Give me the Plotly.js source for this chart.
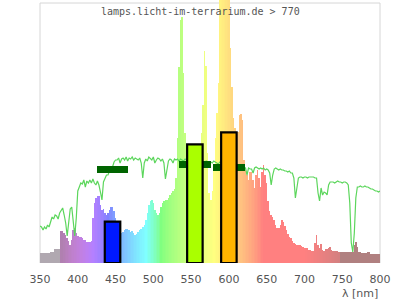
<!DOCTYPE html>
<html>
<head>
<meta charset="utf-8">
<script src="https://cdn.plot.ly/plotly-3.0.1.min.js"></script>
<style>html,body{margin:0;padding:0;background:#fff;}#chart{width:400px;height:300px;}</style>
</head>
<body>
<div id="chart"></div>
<script>
// wavelength grid (nm)
const WL = [
350,352,354,356,358,360,362,364,366,368,
370,372,374,376,378,380,382,384,386,388,
390,392,394,396,398,400,402,404,406,408,
410,412,414,416,418,420,422,424,426,428,
430,432,434,436,438,440,442,444,446,448,
450,452,454,456,458,460,462,464,466,468,
470,472,474,476,478,480,482,484,486,488,
490,492,494,496,498,500,502,504,506,508,
510,512,514,516,518,520,522,524,526,528,
530,532,534,536,538,540,542,544,546,548,
550,552,554,556,558,560,562,564,566,568,
570,572,574,576,578,580,582,584,586,588,
590,592,594,596,598,600,602,604,606,608,
610,612,614,616,618,620,622,624,626,628,
630,632,634,636,638,640,642,644,646,648,
650,652,654,656,658,660,662,664,666,668,
670,672,674,676,678,680,682,684,686,688,
690,692,694,696,698,700,702,704,706,708,
710,712,714,716,718,720,722,724,726,728,
730,732,734,736,738,740,742,744,746,748,
750,752,754,756,758,760,762,764,766,768,
770,772,774,776,778,780,782,784,786,788,
790,792,794,796,798,800];

// lamp spectrum (relative)
const LAMP = [
10,10,10,10,10,10,10,11,11,11,
14,14,14,14,32,32,30,28,25,22,
18,23,33,35,30,27,26,26,25,23,
23,21,21,21,22,45,60,65,67,67,
58,53,54,50,48,50,53,56,56,52,
45,40,36,33,30,31,33,34,34,33,
31,32,30,28,29,31,33,34,36,38,
43,50,58,62,63,60,53,50,48,50,
56,60,62,63,63,65,68,70,72,74,
85,125,196,243,246,190,130,118,105,100,
98,98,100,102,105,108,112,130,158,212,
197,110,70,63,72,95,125,150,180,275,
275,275,275,275,275,275,215,176,145,135,
131,131,148,149,143,103,93,88,83,91,
91,83,75,88,93,85,76,91,98,88,
80,62,52,48,46,43,38,35,35,38,
43,41,37,33,29,26,25,22,20,19,
18,18,18,17,16,15,15,15,13,13,
12,12,20,28,18,15,19,13,12,14,
14,15,16,13,12,12,12,12,11,11,
11,11,11,11,11,11,11,11,18,21,
16,11,11,10,10,10,10,11,11,9,
9,9,9,9,9,9];

// reference sunlight spectrum (relative)
const SUN = [
37,36,33,36,34,38,36,42,46,44,
48,47,44,50,52,55,48,40,27,44,
54,56,40,27,45,72,76,80,79,83,
76,82,80,83,80,84,80,78,82,78,
71,63,81,84,88,88,92,93,96,101,
103,103,105,100,104,105,103,106,102,105,
104,106,103,105,104,103,105,100,85,100,
104,102,106,104,103,106,100,103,105,104,
102,104,100,84,92,102,104,103,100,104,
103,104,102,104,103,102,104,103,101,103,
102,101,103,100,102,101,103,102,100,101,
102,100,101,101,100,102,101,100,99,101,
100,98,99,100,98,99,97,98,96,97,
98,96,97,95,96,94,95,88,95,94,
94,90,95,96,95,94,95,94,95,93,
94,93,90,78,88,94,95,94,93,94,
93,93,92,92,91,92,90,90,85,65,
78,85,86,86,85,86,86,85,86,86,
86,86,85,85,70,62,75,68,71,70,
68,78,81,81,81,80,81,82,81,81,
80,81,81,80,78,60,20,11,30,65,
76,76,77,76,76,77,76,76,75,74,
74,73,72,72,71,72];

// band summaries
const BAND_CENTER = [446, 555, 600];
const BAND_LAMP = [41.3, 118.7, 130.7];
const BAND_SUN = [93.7, 98.7, 95.7];
const BAND_COLOR = ['#0019ff', '#aaff00', '#ffb400'];

const TICKS = [350, 400, 450, 500, 550, 600, 650, 700, 750, 800];

function specColor(w) {
  if (w < 377) return 'rgb(176,168,176)';
  if (w > 746) return 'rgb(176,128,128)';
  const x = Math.max(380, Math.min(780, w));
  let r = 0, g = 0, b = 0;
  if (x < 440) { r = -(x - 440) / 60; b = 1; }
  else if (x < 490) { g = (x - 440) / 50; b = 1; }
  else if (x < 510) { g = 1; b = -(x - 510) / 20; }
  else if (x < 580) { r = (x - 510) / 70; g = 1; }
  else if (x < 645) { r = 1; g = -(x - 645) / 65; }
  else { r = 1; }
  let f = 1;
  if (x < 420) f = 0.3 + 0.7 * (x - 380) / 40;
  else if (x > 700) f = 0.3 + 0.7 * (780 - x) / 80;
  const c = v => Math.round(255 * (0.5 + 0.5 * (v === 0 ? 0 : Math.pow(v * f, 0.8))));
  return 'rgb(' + c(r) + ',' + c(g) + ',' + c(b) + ')';
}

const traces = [
  {
    type: 'bar', x: WL, y: LAMP, width: 2,
    marker: { color: WL.map(specColor), line: { width: 0 } },
    hoverinfo: 'skip', xaxis: 'x', yaxis: 'y'
  },
  {
    type: 'scatter', mode: 'lines', x: WL, y: SUN,
    line: { color: '#5cd65c', width: 1.2 },
    hoverinfo: 'skip', xaxis: 'x', yaxis: 'y'
  },
  {
    type: 'bar', x: BAND_CENTER, y: BAND_SUN.map(() => 6.7),
    base: BAND_SUN.map(v => v - 3.35), width: 42,
    marker: { color: '#006400', line: { width: 0 } },
    hoverinfo: 'skip', xaxis: 'x2', yaxis: 'y2'
  },
  {
    type: 'bar', x: BAND_CENTER, y: BAND_LAMP, width: 20.5,
    marker: { color: BAND_COLOR, line: { color: '#000', width: 2.2 } },
    hoverinfo: 'skip', xaxis: 'x2', yaxis: 'y2'
  }
];

const layout = {
  width: 400, height: 300,
  margin: { l: 40, r: 20, t: 0, b: 37 },
  paper_bgcolor: '#fff', plot_bgcolor: 'rgba(0,0,0,0)',
  showlegend: false, barmode: 'overlay', bargap: 0,
  xaxis: {
    range: [350, 800], tickvals: TICKS, ticktext: TICKS.map(String),
    showgrid: false, zeroline: false, showline: false, ticks: '',
    tickfont: { family: 'DejaVu Sans, sans-serif', size: 11, color: '#555' },
    ticklabelstandoff: 8, fixedrange: true
  },
  yaxis: {
    range: [0, 263], showgrid: false, zeroline: false, showline: false,
    showticklabels: false, ticks: '', fixedrange: true
  },
  xaxis2: { range: [350, 800], overlaying: 'x', anchor: 'y2', visible: false, fixedrange: true },
  yaxis2: { range: [0, 263], overlaying: 'y', anchor: 'x2', visible: false, fixedrange: true },
  shapes: [
    { type: 'rect', xref: 'paper', yref: 'y', x0: 0, x1: 1, y0: 0, y1: 260,
      line: { color: '#d6d6d6', width: 1 }, fillcolor: 'rgba(0,0,0,0)', layer: 'below' }
  ],
  annotations: [
    { text: 'lamps.licht-im-terrarium.de &gt; 770', xref: 'paper', yref: 'paper',
      x: 0.4706, y: (263 - 11) / 263, xanchor: 'center', yanchor: 'middle', showarrow: false,
      font: { family: 'DejaVu Sans Mono, monospace', size: 10, color: '#555' } },
    { text: 'λ [nm]', xref: 'paper', yref: 'paper',
      x: 1, y: -(293.5 - 263) / 263, xanchor: 'right', yanchor: 'middle', showarrow: false,
      font: { family: 'DejaVu Sans, sans-serif', size: 11, color: '#555' } }
  ]
};

Plotly.newPlot('chart', traces, layout, { staticPlot: true, displayModeBar: false });
</script>
</body>
</html>
